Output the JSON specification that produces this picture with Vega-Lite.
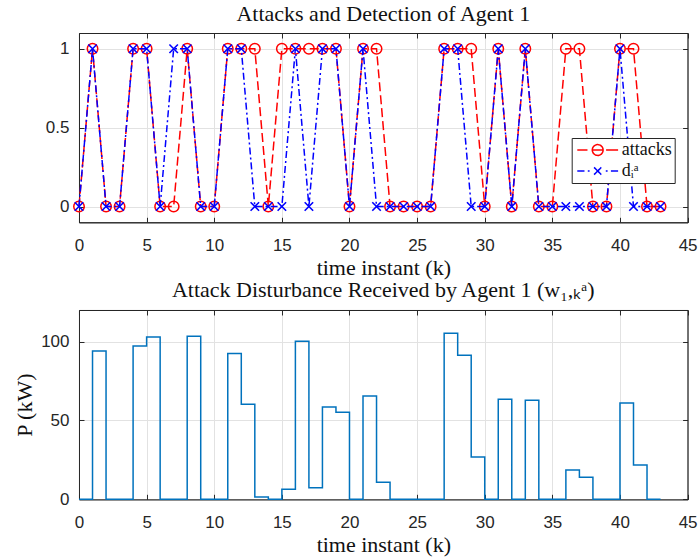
{
  "$schema": "https://vega.github.io/schema/vega-lite/v6.json",
  "padding": {"left": 12, "top": 2, "right": 10, "bottom": 0},
  "background": "white",
  "spacing": -1,
  "datasets": {
    "main": [
      {"k": 0, "a": 0, "d": 0, "p": 0},
      {"k": 1, "a": 1, "d": 1, "p": 94.0},
      {"k": 2, "a": 0, "d": 0, "p": 0},
      {"k": 3, "a": 0, "d": 0, "p": 0},
      {"k": 4, "a": 1, "d": 1, "p": 97.2},
      {"k": 5, "a": 1, "d": 1, "p": 102.9},
      {"k": 6, "a": 0, "d": 0, "p": 0},
      {"k": 7, "a": 0, "d": 1, "p": 0},
      {"k": 8, "a": 1, "d": 1, "p": 103.4},
      {"k": 9, "a": 0, "d": 0, "p": 0},
      {"k": 10, "a": 0, "d": 0, "p": 0},
      {"k": 11, "a": 1, "d": 1, "p": 92.4},
      {"k": 12, "a": 1, "d": 1, "p": 60.2},
      {"k": 13, "a": 1, "d": 0, "p": 1.5},
      {"k": 14, "a": 0, "d": 0, "p": 0},
      {"k": 15, "a": 1, "d": 0, "p": 6.3},
      {"k": 16, "a": 1, "d": 1, "p": 100.2},
      {"k": 17, "a": 1, "d": 0, "p": 7.4},
      {"k": 18, "a": 1, "d": 1, "p": 58.5},
      {"k": 19, "a": 1, "d": 1, "p": 55.2},
      {"k": 20, "a": 0, "d": 0, "p": 0},
      {"k": 21, "a": 1, "d": 1, "p": 65.5},
      {"k": 22, "a": 1, "d": 0, "p": 10.8},
      {"k": 23, "a": 0, "d": 0, "p": 0},
      {"k": 24, "a": 0, "d": 0, "p": 0},
      {"k": 25, "a": 0, "d": 0, "p": 0},
      {"k": 26, "a": 0, "d": 0, "p": 0},
      {"k": 27, "a": 1, "d": 1, "p": 105.3},
      {"k": 28, "a": 1, "d": 1, "p": 91.3},
      {"k": 29, "a": 1, "d": 0, "p": 26.8},
      {"k": 30, "a": 0, "d": 0, "p": 0},
      {"k": 31, "a": 1, "d": 1, "p": 63.4},
      {"k": 32, "a": 0, "d": 0, "p": 0},
      {"k": 33, "a": 1, "d": 1, "p": 62.8},
      {"k": 34, "a": 0, "d": 0, "p": 0},
      {"k": 35, "a": 0, "d": 0, "p": 0},
      {"k": 36, "a": 1, "d": 0, "p": 18.6},
      {"k": 37, "a": 1, "d": 0, "p": 14.0},
      {"k": 38, "a": 0, "d": 0, "p": 0},
      {"k": 39, "a": 0, "d": 0, "p": 0},
      {"k": 40, "a": 1, "d": 1, "p": 61.1},
      {"k": 41, "a": 1, "d": 0, "p": 21.8},
      {"k": 42, "a": 0, "d": 0, "p": 0},
      {"k": 43, "a": 0, "d": 0, "p": 0}
    ]
  },
  "config": {
    "view": {"stroke": "#262626", "strokeWidth": 1},
    "axis": {
      "domainColor": "#262626",
      "domainWidth": 1,
      "tickColor": "#262626",
      "tickSize": -5,
      "tickWidth": 1,
      "labelFont": "Liberation Sans",
      "labelFontSize": 17,
      "labelColor": "#262626",
      "labelFlush": false,
      "labelOverlap": false,
      "gridColor": "#e2e2e2",
      "gridWidth": 1,
      "titleFont": "Liberation Serif",
      "titleFontSize": 22,
      "titleFontWeight": "normal",
      "titleColor": "#111111"
    },
    "title": {
      "font": "Liberation Serif",
      "fontSize": 22,
      "fontWeight": "normal",
      "color": "#111111",
      "baseline": "alphabetic",
      "offset": 7
    }
  },
  "vconcat": [
    {
      "width": 608.6,
      "height": 189.3,
      "title": {"text": "Attacks and Detection of Agent 1"},
      "data": {"name": "main"},
      "transform": [{"fold": ["a", "d"], "as": ["s", "v"]}],
      "layer": [
        {
          "transform": [{"filter": "datum.s === 'a'"}],
          "mark": {"type": "line", "strokeDash": [9, 4], "strokeWidth": 1.5},
          "encoding": {
            "x": {"field": "k", "type": "quantitative", "scale": {"domain": [0, 45], "nice": false},
              "axis": {"orient": "bottom", "values": [0, 5, 10, 15, 20, 25, 30, 35, 40, 45], "title": "time instant (k)", "titleY": 52.3, "titleBaseline": "alphabetic", "labelBaseline": "alphabetic", "labelPadding": 33, "grid": true}},
            "y": {"field": "v", "type": "quantitative", "scale": {"domain": [-0.1, 1.1], "nice": false, "zero": false},
              "axis": {"orient": "left", "values": [0, 0.5, 1], "format": "~g", "title": null, "labelPadding": 15, "grid": true}},
            "color": {"field": "s", "type": "nominal", "scale": {"domain": ["a", "d"], "range": ["#ff0000", "#0000ff"]},
              "legend": {
                "orient": "none", "legendX": 492.7, "legendY": 105, "title": null,
                "labelExpr": "datum.value === 'a' ? 'attacks' : 'dᵢᵃ'",
                "labelFont": "Liberation Serif", "labelFontSize": 18, "labelColor": "#111111",
                "symbolSize": 144, "symbolOffset": 14, "labelOffset": 15, "symbolStrokeWidth": 1.5,
                "symbolOpacity": 1,
                "padding": 3, "rowPadding": 3,
                "strokeColor": "#262626", "fillColor": "white",
                "encode": {"symbols": {"update": {
                  "shape": {"signal": "datum.value === 'a' ? 'M-3.4,0H-1.7M-0.9,0H0.9M1.4,0H3.4M0.9,0A0.9,0.9 0 1,1 -0.9,0A0.9,0.9 0 1,1 0.9,0' : 'M-3.4,0H-2.2M-1.65,0H-1.35M1.35,0H1.65M2.2,0H3.4M-0.6,-0.6L0.6,0.6M-0.6,0.6L0.6,-0.6'"},
                  "fill": {"value": "transparent"},
                  "strokeDash": {"value": [1, 0]}
                }}}
              }}
          }
        },
        {
          "transform": [{"filter": "datum.s === 'a'"}],
          "mark": {"type": "point", "shape": "circle", "size": 110, "strokeWidth": 1.5, "opacity": 1, "filled": false},
          "encoding": {
            "x": {"field": "k", "type": "quantitative", "axis": {"orient": "top", "values": [0, 5, 10, 15, 20, 25, 30, 35, 40, 45], "labels": false, "title": null, "grid": false}},
            "y": {"field": "v", "type": "quantitative", "axis": {"orient": "right", "values": [0, 0.5, 1], "labels": false, "title": null, "grid": false}},
            "color": {"field": "s", "type": "nominal"}
          }
        },
        {
          "transform": [{"filter": "datum.s === 'd'"}],
          "mark": {"type": "line", "strokeDash": [7, 3, 2, 3], "strokeWidth": 1.5},
          "encoding": {
            "x": {"field": "k", "type": "quantitative", "axis": null},
            "y": {"field": "v", "type": "quantitative", "axis": null},
            "color": {"field": "s", "type": "nominal"}
          }
        },
        {
          "transform": [{"filter": "datum.s === 'd'"}],
          "mark": {"type": "point", "shape": "M-1,-1L1,1M-1,1L1,-1", "size": 72, "strokeWidth": 1.6, "opacity": 1, "filled": false},
          "encoding": {
            "x": {"field": "k", "type": "quantitative", "axis": null},
            "y": {"field": "v", "type": "quantitative", "axis": null},
            "color": {"field": "s", "type": "nominal"}
          }
        }
      ],
      "resolve": {"axis": {"x": "independent", "y": "independent"}}
    },
    {
      "width": 608.6,
      "height": 189.3,
      "title": {"text": "Attack Disturbance Received by Agent 1 (w₁,ₖᵃ)"},
      "data": {"name": "main"},
      "layer": [
        {
          "mark": {"type": "line", "interpolate": "step-after", "color": "#0072BD", "strokeWidth": 1.5},
          "encoding": {
            "x": {"field": "k", "type": "quantitative", "scale": {"domain": [0, 45], "nice": false},
              "axis": {"orient": "bottom", "values": [0, 5, 10, 15, 20, 25, 30, 35, 40, 45], "title": "time instant (k)", "titleY": 52.3, "titleBaseline": "alphabetic", "labelBaseline": "alphabetic", "labelPadding": 33, "grid": true}},
            "y": {"field": "p", "type": "quantitative", "scale": {"domain": [0, 120], "nice": false},
              "axis": {"orient": "left", "values": [0, 50, 100], "title": "P (kW)", "titleX": -47.7, "titleY": 94.65, "titleAngle": 270, "titleBaseline": "alphabetic", "titleAlign": "center", "labelPadding": 15, "grid": true}}
          }
        },
        {
          "mark": {"type": "line", "interpolate": "step-after", "opacity": 0},
          "encoding": {
            "x": {"field": "k", "type": "quantitative", "axis": {"orient": "top", "values": [0, 5, 10, 15, 20, 25, 30, 35, 40, 45], "labels": false, "title": null, "grid": false}},
            "y": {"field": "p", "type": "quantitative", "axis": {"orient": "right", "values": [0, 50, 100], "labels": false, "title": null, "grid": false}}
          }
        }
      ],
      "resolve": {"axis": {"x": "independent", "y": "independent"}}
    }
  ]
}
